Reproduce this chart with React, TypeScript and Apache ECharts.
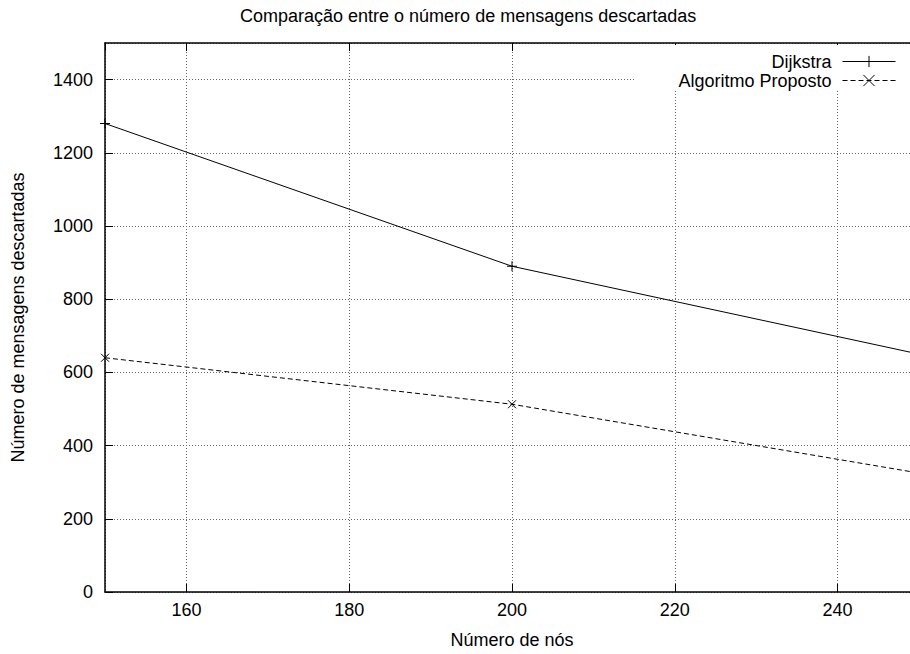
import React, { useEffect, useRef } from "react";
import * as echarts from "echarts";

const nodes = [150, 200, 250];
const dijkstra = [1280, 890, 650];
const proposto = [640, 513, 325];
const seriesNames = ["Dijkstra", "Algoritmo Proposto"];
const titleText = "Comparação entre o número de mensagens descartadas";
const xName = "Número de nós";
const yName = "Número de mensagens descartadas";

const FONT = "'Liberation Sans', Arial, Helvetica, sans-serif";
const PLUS = "path://M0,5L10,5M5,0L5,10";
const CROSS = "path://M0,0L10,10M10,0L0,10";

export default function App() {
  const ref = useRef<HTMLDivElement>(null);
  useEffect(() => {
    const chart = echarts.init(ref.current!, null, { renderer: "svg" });
    const gridLine = { show: true, lineStyle: { color: "#666", type: [1, 2], width: 1 } };
    const axisLine = { show: true, lineStyle: { color: "#000", width: 1.5 } };
    const axisTick = { show: true, inside: true, length: 8, lineStyle: { color: "#000", width: 1 } };
    chart.setOption({
      animation: false,
      textStyle: { fontFamily: FONT },
      title: {
        text: titleText,
        left: 235,
        top: 2,
        textStyle: { fontSize: 18, fontWeight: "normal", color: "#000", fontFamily: FONT },
      },
      legend: {
        orient: "vertical",
        right: 10,
        top: 45,
        align: "right",
        itemWidth: 53,
        itemHeight: 14,
        itemGap: 0,
        padding: [7, 14, 0, 43],
        backgroundColor: "#fff",
        selectedMode: false,
        textStyle: { fontSize: 18, color: "#000", lineHeight: 19, padding: [0, 6, 0, 0], fontFamily: FONT },
        lineStyle: { width: 1 },
        itemStyle: { borderWidth: 1 },
        data: seriesNames,
      },
      grid: { left: 105, right: 1, top: 43, bottom: 53 },
      xAxis: [
        {
          type: "value",
          min: 150,
          max: 250,
          splitNumber: 5,
          axisLine,
          axisTick,
          axisLabel: { fontSize: 18, color: "#000", margin: 9, showMinLabel: false, showMaxLabel: false, fontFamily: FONT },
          splitLine: gridLine,
          name: xName,
          nameLocation: "middle",
          nameGap: 39,
          nameTextStyle: { fontSize: 18, color: "#000", fontFamily: FONT },
        },
        {
          type: "value",
          position: "top",
          min: 150,
          max: 250,
          splitNumber: 5,
          axisLine,
          axisTick,
          axisLabel: { show: false },
          splitLine: { show: false },
        },
      ],
      yAxis: {
        type: "value",
        min: 0,
        max: 1500,
        interval: 200,
        axisLine,
        axisTick,
        axisLabel: {
          fontSize: 18,
          color: "#000",
          margin: 12,
          showMaxLabel: false,
          fontFamily: FONT,
          formatter: (v: number) => String(v),
        },
        splitLine: gridLine,
        name: yName,
        nameLocation: "middle",
        nameGap: 78,
        nameTextStyle: { fontSize: 18, color: "#000", fontFamily: FONT },
      },
      series: [
        {
          name: seriesNames[0],
          type: "line",
          data: nodes.map((x, i) => [x, dijkstra[i]]),
          symbol: PLUS,
          symbolSize: 10,
          lineStyle: { color: "#000", width: 1 },
          itemStyle: { color: "#000", borderColor: "#000", borderWidth: 1 },
          emphasis: { disabled: true },
          silent: true,
        },
        {
          name: seriesNames[1],
          type: "line",
          data: nodes.map((x, i) => [x, proposto[i]]),
          symbol: CROSS,
          symbolSize: 8,
          lineStyle: { color: "#000", width: 1, type: [5, 3] },
          itemStyle: { color: "#000", borderColor: "#000", borderWidth: 1 },
          emphasis: { disabled: true },
          silent: true,
        },
      ],
    });
    return () => chart.dispose();
  }, []);
  return (
    <div
      style={{ position: "fixed", left: 0, top: 0, width: 910, height: 654, overflow: "hidden", background: "#fff" }}
    >
      <div ref={ref} style={{ width: 920, height: 654 }} />
    </div>
  );
}
